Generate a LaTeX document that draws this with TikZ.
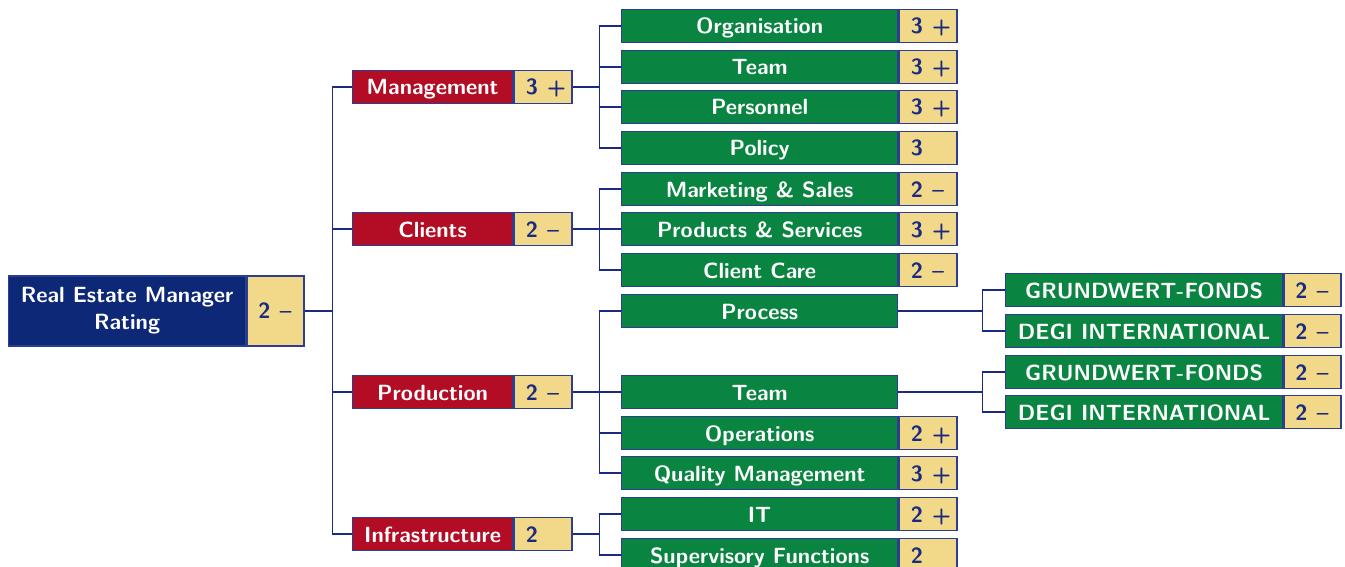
\documentclass[tikz,border=0pt]{standalone}
\usepackage{fontspec}
\definecolor{rootc}{HTML}{0E2878}
\definecolor{catc}{HTML}{B30C25}
\definecolor{subc}{HTML}{0A8541}
\definecolor{gradec}{HTML}{F2D98A}
\definecolor{gradet}{HTML}{1A2A80}
\definecolor{bordc}{HTML}{2C3E91}
\definecolor{linkc}{HTML}{1A2A80}
\newcommand\gr[2]{\makebox[34pt][l]{#1\hspace{9pt}#2}}
\tikzset{
 base/.style={draw=bordc, line width=1.3pt, minimum height=33pt, inner sep=0pt,
   text height=24.5pt, text depth=8.5pt,
   font=\sffamily\bfseries\fontsize{22}{27}\selectfont, anchor=west},
 rootbox/.style={base, fill=rootc, text=white, minimum width=237pt, minimum height=70pt,
   align=center, text height={}, text depth={}},
 catbox/.style={base, fill=catc, text=white, minimum width=160pt},
 subbox/.style={base, fill=subc, text=white, minimum width=276pt},
 gradebox/.style={base, fill=gradec, text=gradet, minimum width=58pt, inner xsep=11pt},
 link/.style={draw=linkc, line width=1.6pt},
}
\begin{document}
\begin{tikzpicture}[x=1pt,y=-1pt]
\useasboundingbox (0,0) rectangle (1345,567);
\clip (0,0) rectangle (1345,567);
% root
\node[rootbox] (r) at (8,311) {Real Estate Manager\\Rating};
\node[gradebox, minimum height=70pt, minimum width=57pt, text height={}, text depth={}] (rg) at (r.east) {\gr{2}{--}};
% categories
\node[catbox] (m) at (352,87) {Management};
\node[gradebox] (mg) at (m.east) {\gr{3}{+}};
\node[catbox] (c) at (352,229) {Clients};
\node[gradebox] (cg) at (c.east) {\gr{2}{--}};
\node[catbox] (p) at (352,392) {Production};
\node[gradebox] (pg) at (p.east) {\gr{2}{--}};
\node[catbox] (i) at (352,534) {Infrastructure};
\node[gradebox] (ig) at (i.east) {\gr{2}{}};
% subs
\node[subbox] (s1) at (621,26) {Organisation};
\node[gradebox] (s1g) at (s1.east) {\gr{3}{+}};
\node[subbox] (s2) at (621,67) {Team};
\node[gradebox] (s2g) at (s2.east) {\gr{3}{+}};
\node[subbox] (s3) at (621,107) {Personnel};
\node[gradebox] (s3g) at (s3.east) {\gr{3}{+}};
\node[subbox] (s4) at (621,148) {Policy};
\node[gradebox] (s4g) at (s4.east) {\gr{3}{}};
\node[subbox] (s5) at (621,189) {Marketing \& Sales};
\node[gradebox] (s5g) at (s5.east) {\gr{2}{--}};
\node[subbox] (s6) at (621,229) {Products \& Services};
\node[gradebox] (s6g) at (s6.east) {\gr{3}{+}};
\node[subbox] (s7) at (621,270) {Client Care};
\node[gradebox] (s7g) at (s7.east) {\gr{2}{--}};
\node[subbox] (s8) at (621,311) {Process};
\node[subbox] (s9) at (621,392) {Team};
\node[subbox] (s10) at (621,433) {Operations};
\node[gradebox] (s10g) at (s10.east) {\gr{2}{+}};
\node[subbox] (s11) at (621,473) {Quality Management};
\node[gradebox] (s11g) at (s11.east) {\gr{3}{+}};
\node[subbox] (s12) at (621,514) {IT};
\node[gradebox] (s12g) at (s12.east) {\gr{2}{+}};
\node[subbox] (s13) at (621,555) {Supervisory Functions};
\node[gradebox] (s13g) at (s13.east) {\gr{2}{}};
% third level
\node[subbox, minimum width=277pt] (t1) at (1005,290) {GRUNDWERT-FONDS};
\node[gradebox, minimum width=57pt] (t1g) at (t1.east) {\gr{2}{--}};
\node[subbox, minimum width=277pt] (t2) at (1005,331) {DEGI INTERNATIONAL};
\node[gradebox, minimum width=57pt] (t2g) at (t2.east) {\gr{2}{--}};
\node[subbox, minimum width=277pt] (t3) at (1005,372) {GRUNDWERT-FONDS};
\node[gradebox, minimum width=57pt] (t3g) at (t3.east) {\gr{2}{--}};
\node[subbox, minimum width=277pt] (t4) at (1005,412) {DEGI INTERNATIONAL};
\node[gradebox, minimum width=57pt] (t4g) at (t4.east) {\gr{2}{--}};
% connectors
\foreach \k in {m,c,p,i} \draw[link] (rg.east) -- ++(28,0) |- (\k.west);
\foreach \k in {s1,s2,s3,s4} \draw[link] (mg.east) -- ++(27,0) |- (\k.west);
\foreach \k in {s5,s6,s7} \draw[link] (cg.east) -- ++(27,0) |- (\k.west);
\foreach \k in {s8,s9,s10,s11} \draw[link] (pg.east) -- ++(27,0) |- (\k.west);
\foreach \k in {s12,s13} \draw[link] (ig.east) -- ++(27,0) |- (\k.west);
\foreach \k in {t1,t2} \draw[link] (s8.east) -- ++(84,0) |- (\k.west);
\foreach \k in {t3,t4} \draw[link] (s9.east) -- ++(84,0) |- (\k.west);
\end{tikzpicture}
\end{document}
